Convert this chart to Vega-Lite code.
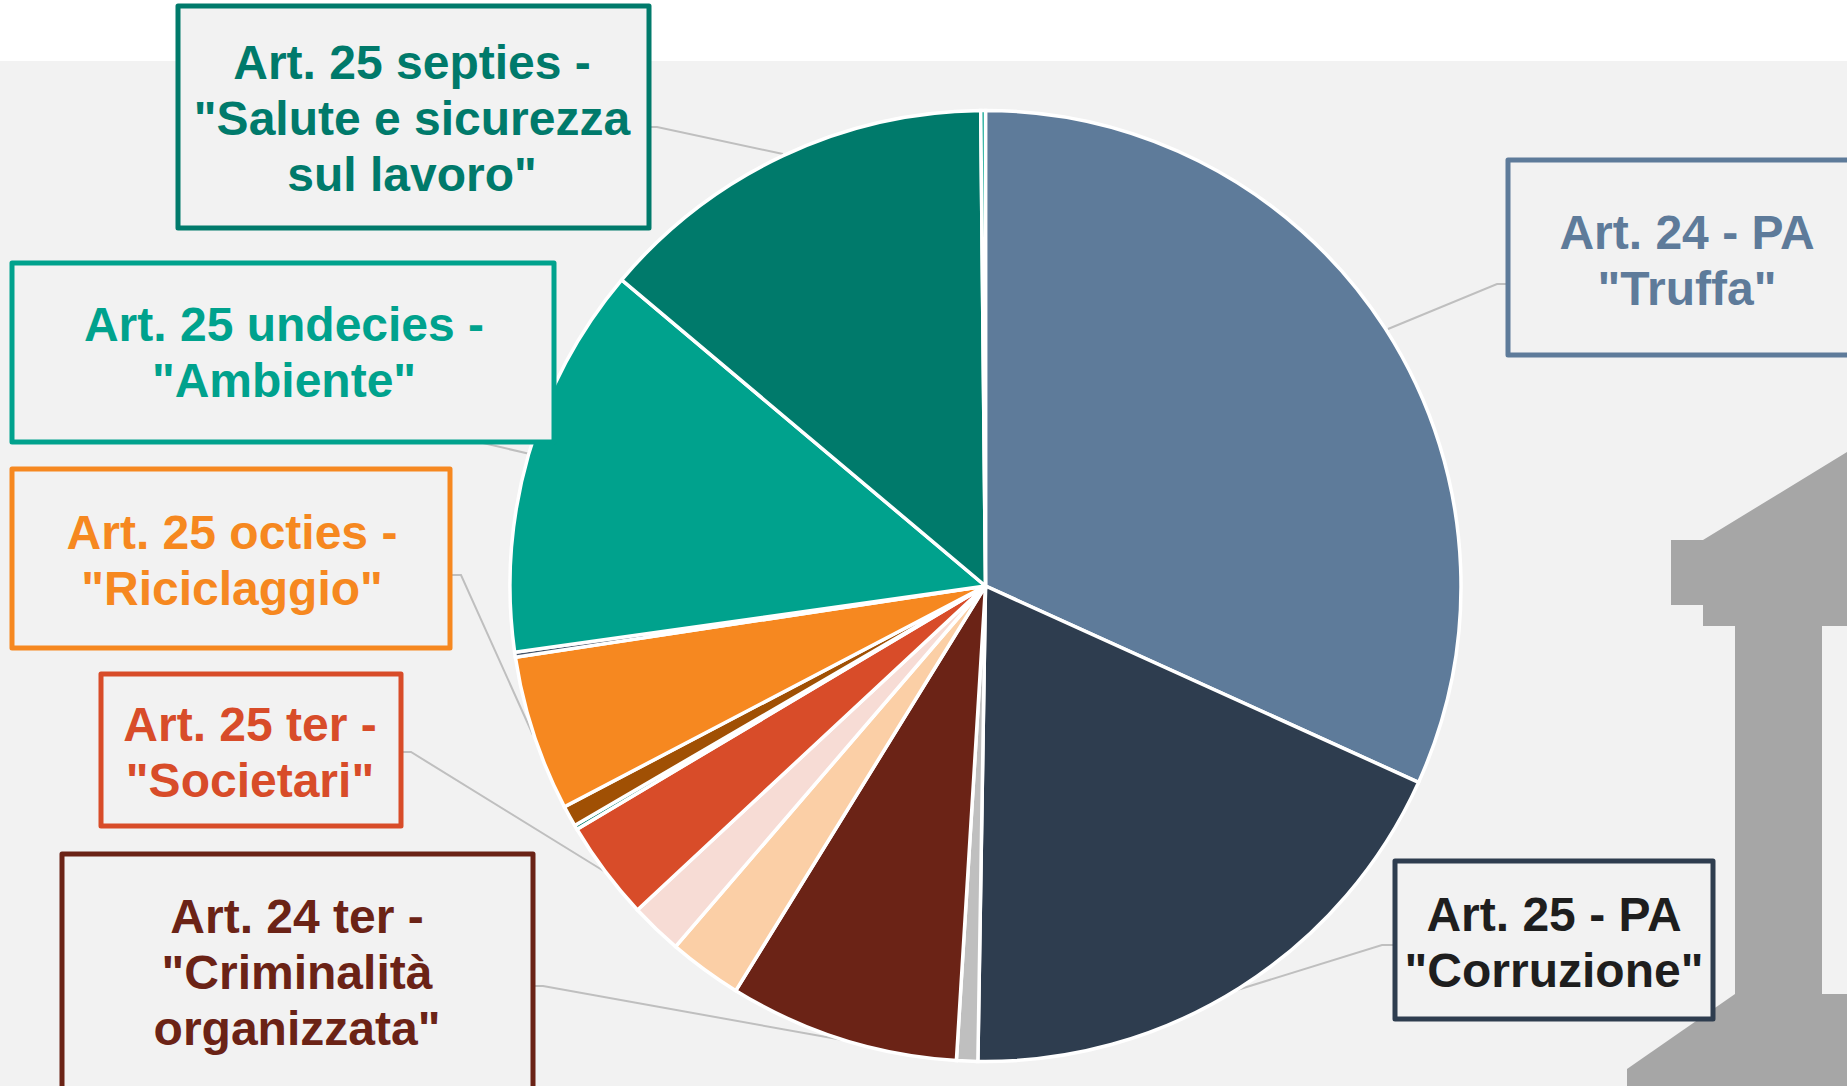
{
"$schema":"https://vega.github.io/schema/vega-lite/v6.json",
"width":1847,"height":1086,"autosize":"none","padding":0,"background":"#FFFFFF",
"config":{"view":{"stroke":null}},
"datasets":{
"slices":[
{"ord":1,"name":"Art. 24 PA Truffa","share":31.76},
{"ord":2,"name":"Art. 25 PA Corruzione","share":18.47},
{"ord":3,"name":"Altro grigio","share":0.72},
{"ord":4,"name":"Art. 24 ter Criminalità organizzata","share":7.82},
{"ord":5,"name":"Pesca","share":2.5},
{"ord":6,"name":"Rosa","share":1.77},
{"ord":7,"name":"Art. 25 ter Societari","share":3.38},
{"ord":8,"name":"Verde minimo","share":0.15},
{"ord":9,"name":"Marrone","share":0.71},
{"ord":10,"name":"Art. 25 octies Riciclaggio","share":5.29},
{"ord":11,"name":"Blu minimo","share":0.17},
{"ord":12,"name":"Art. 25 undecies Ambiente","share":13.35},
{"ord":13,"name":"Art. 25 septies Salute e sicurezza","share":13.7},
{"ord":14,"name":"Acqua minimo","share":0.16}
],
"boxes":[
{"name":"Art. 24 PA Truffa","label":"Art. 24 - PA\n\"Truffa\"","x1":1508,"x2":1850,"y1":160,"y2":355,"tx":1687,"ty":235},
{"name":"Art. 25 PA Corruzione","label":"Art. 25 - PA\n\"Corruzione\"","x1":1395,"x2":1713,"y1":861,"y2":1019,"tx":1554,"ty":917},
{"name":"Art. 24 ter Criminalità organizzata","label":"Art. 24 ter -\n\"Criminalità\norganizzata\"","x1":62,"x2":533,"y1":854,"y2":1092,"tx":297,"ty":919},
{"name":"Art. 25 ter Societari","label":"Art. 25 ter -\n\"Societari\"","x1":101,"x2":401,"y1":674,"y2":826,"tx":250,"ty":727},
{"name":"Art. 25 octies Riciclaggio","label":"Art. 25 octies -\n\"Riciclaggio\"","x1":12,"x2":450,"y1":469,"y2":648,"tx":232,"ty":535},
{"name":"Art. 25 undecies Ambiente","label":"Art. 25 undecies -\n\"Ambiente\"","x1":12,"x2":554,"y1":263,"y2":442,"tx":284,"ty":327},
{"name":"Art. 25 septies Salute e sicurezza","label":"Art. 25 septies -\n\"Salute e sicurezza\nsul lavoro\"","x1":178,"x2":649,"y1":6,"y2":228,"tx":412,"ty":65}
],
"leaders":[
{"k":"a","s":1,"x":1508,"y":284},{"k":"a","s":2,"x":1497,"y":284},{"k":"a","s":3,"x":1388,"y":329},
{"k":"b","s":1,"x":1395,"y":945},{"k":"b","s":2,"x":1382,"y":945},{"k":"b","s":3,"x":1237,"y":990},
{"k":"c","s":1,"x":533,"y":986},{"k":"c","s":2,"x":543,"y":986},{"k":"c","s":3,"x":843,"y":1040},
{"k":"d","s":1,"x":401,"y":752},{"k":"d","s":2,"x":411,"y":752},{"k":"d","s":3,"x":607,"y":873},
{"k":"e","s":1,"x":450,"y":575},{"k":"e","s":2,"x":461,"y":575},{"k":"e","s":3,"x":533,"y":735},
{"k":"f","s":1,"x":470,"y":440},{"k":"f","s":2,"x":530,"y":454},
{"k":"g","s":1,"x":649,"y":127},{"k":"g","s":2,"x":657,"y":127},{"k":"g","s":3,"x":783,"y":154}
],
"building":[
{"part":"roof","s":1,"bx":1671,"top":540,"bottom":605},
{"part":"roof","s":2,"bx":1703,"top":540,"bottom":605},
{"part":"roof","s":3,"bx":1703,"top":540,"bottom":626},
{"part":"roof","s":4,"bx":1847,"top":452,"bottom":626},
{"part":"column","s":1,"bx":1735,"top":626,"bottom":994},
{"part":"column","s":2,"bx":1822,"top":626,"bottom":994},
{"part":"base","s":1,"bx":1627,"top":1069,"bottom":1086},
{"part":"base","s":2,"bx":1735,"top":994,"bottom":1086},
{"part":"base","s":3,"bx":1847,"top":994,"bottom":1086}
]
},
"layer":[
{"data":{"values":[{"x1":0,"x2":1847,"y1":61,"y2":1086}]},
 "mark":{"type":"rect","fill":"#F2F2F2"},
 "encoding":{
  "x":{"field":"x1","type":"quantitative","scale":{"domain":[0,1847],"nice":false,"zero":false},"axis":null},
  "x2":{"field":"x2"},
  "y":{"field":"y1","type":"quantitative","scale":{"domain":[1086,0],"nice":false,"zero":false},"axis":null},
  "y2":{"field":"y2"}}},
{"data":{"name":"building"},
 "mark":{"type":"area","color":"#A6A6A6"},
 "encoding":{
  "x":{"field":"bx","type":"quantitative"},
  "y":{"field":"top","type":"quantitative"},
  "y2":{"field":"bottom"},
  "detail":{"field":"part","type":"nominal"}}},
{"data":{"name":"leaders"},
 "mark":{"type":"line","stroke":"#BFBFBF","strokeWidth":2},
 "encoding":{
  "x":{"field":"x","type":"quantitative"},
  "y":{"field":"y","type":"quantitative"},
  "detail":{"field":"k"},
  "order":{"field":"s","type":"quantitative"}}},
{"data":{"name":"slices"},
 "mark":{"type":"arc","radius":475.5,"stroke":"#FFFFFF","strokeWidth":3.5},
 "encoding":{
  "x":{"datum":985.5,"type":"quantitative"},
  "y":{"datum":586,"type":"quantitative"},
  "theta":{"field":"share","type":"quantitative","stack":true},
  "order":{"field":"ord","type":"quantitative"},
  "color":{"field":"name","type":"nominal","legend":null,"scale":{
   "domain":["Art. 24 PA Truffa","Art. 25 PA Corruzione","Altro grigio","Art. 24 ter Criminalità organizzata","Pesca","Rosa","Art. 25 ter Societari","Verde minimo","Marrone","Art. 25 octies Riciclaggio","Blu minimo","Art. 25 undecies Ambiente","Art. 25 septies Salute e sicurezza","Acqua minimo"],
   "range":["#5E7B9A","#2E3D4F","#BFBFBF","#6B2316","#FBCFA6","#F7DCD5","#D84C29","#00796B","#A05004","#F68820","#44546A","#00A28D","#007A6B","#00A28D"]}}}},
{"data":{"name":"boxes"},
 "mark":{"type":"rect","fill":"#F2F2F2","strokeWidth":5,"strokeJoin":"round"},
 "encoding":{
  "x":{"field":"x1","type":"quantitative"},"x2":{"field":"x2"},
  "y":{"field":"y1","type":"quantitative"},"y2":{"field":"y2"},
  "stroke":{"field":"name","type":"nominal","legend":null,"scale":{
   "domain":["Art. 24 PA Truffa","Art. 25 PA Corruzione","Art. 24 ter Criminalità organizzata","Art. 25 ter Societari","Art. 25 octies Riciclaggio","Art. 25 undecies Ambiente","Art. 25 septies Salute e sicurezza"],
   "range":["#5E7B9A","#2E3D4F","#6B2316","#D84C29","#F68820","#00A28D","#007A6B"]}}}},
{"data":{"name":"boxes"},
 "mark":{"type":"text","font":"Liberation Sans","fontWeight":"bold","fontSize":48,"lineHeight":56,"lineBreak":"\n","align":"center","baseline":"middle"},
 "encoding":{
  "x":{"field":"tx","type":"quantitative"},
  "y":{"field":"ty","type":"quantitative"},
  "text":{"field":"label"},
  "fill":{"field":"name","type":"nominal","legend":null,"scale":{
   "domain":["Art. 24 PA Truffa","Art. 25 PA Corruzione","Art. 24 ter Criminalità organizzata","Art. 25 ter Societari","Art. 25 octies Riciclaggio","Art. 25 undecies Ambiente","Art. 25 septies Salute e sicurezza"],
   "range":["#5E7B9A","#1E1E1E","#6B2316","#D84C29","#F68820","#00A28D","#007A6B"]}}}}
],
"resolve":{"scale":{"color":"independent","stroke":"independent","fill":"independent"}}
}
